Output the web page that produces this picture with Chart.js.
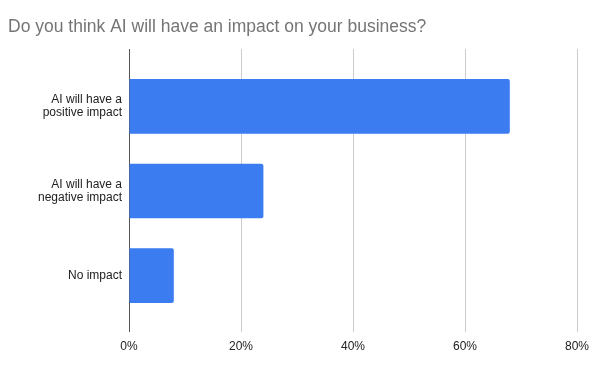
<!DOCTYPE html>
<html lang="en">
<head>
    <meta charset="UTF-8">
    <title>AI impact survey</title>
    <style>
        body {
            margin: 0;
            padding: 0;
            background-color: #fff;
        }
    </style>
</head>
<body>
    <canvas id="impactChart" width="602" height="368"></canvas>
    <script src="https://cdn.jsdelivr.net/npm/chart.js"></script>
    <script>
        const categories = [
            ['AI will have a', 'positive impact'],
            ['AI will have a', 'negative impact'],
            'No impact'
        ];
        const shares = [68, 24, 8];
        const xTicks = [0, 20, 40, 60, 80];

        const fontFamily = '"Liberation Sans", Arial, sans-serif';
        const gridColor = (ctx) => ctx.tick && ctx.tick.value === 0 ? '#555' : '#cccccc';

        const ctx = document.getElementById('impactChart').getContext('2d');
        new Chart(ctx, {
            type: 'bar',
            data: {
                labels: categories,
                datasets: [{
                    data: shares,
                    backgroundColor: '#3b7cf1',
                    borderRadius: 2,
                    borderSkipped: 'start',
                    barPercentage: 0.645,
                    categoryPercentage: 1
                }]
            },
            options: {
                indexAxis: 'y',
                responsive: false,
                animation: false,
                layout: {
                    padding: { left: 8, right: 25, top: 0, bottom: 7.6 }
                },
                plugins: {
                    legend: { display: false },
                    tooltip: { enabled: false },
                    title: {
                        display: true,
                        text: 'Do you think AI will have an impact on your business?',
                        align: 'start',
                        color: '#757575',
                        font: { family: fontFamily, size: 17.5, weight: 'normal', lineHeight: 1.2 },
                        padding: { top: 17, bottom: 11 }
                    }
                },
                scales: {
                    x: {
                        min: xTicks[0],
                        max: xTicks[xTicks.length - 1],
                        border: { display: false },
                        grid: { color: gridColor, tickLength: 14 },
                        ticks: {
                            stepSize: 20,
                            padding: 7,
                            color: '#222',
                            font: { family: fontFamily, size: 12 },
                            callback: (v) => v + '%'
                        }
                    },
                    x2: {
                        type: 'linear',
                        position: 'top',
                        min: xTicks[0],
                        max: xTicks[xTicks.length - 1],
                        border: { display: false },
                        grid: { color: gridColor, tickLength: 15, drawOnChartArea: false },
                        ticks: { stepSize: 20, display: false }
                    },
                    y: {
                        border: { display: false },
                        grid: { display: false, drawTicks: false },
                        ticks: {
                            padding: 7,
                            color: '#222',
                            font: { family: fontFamily, size: 12, lineHeight: 1.1 }
                        },
                        afterFit: (scale) => { scale.width = 121; }
                    }
                }
            }
        });
    </script>
</body>
</html>
